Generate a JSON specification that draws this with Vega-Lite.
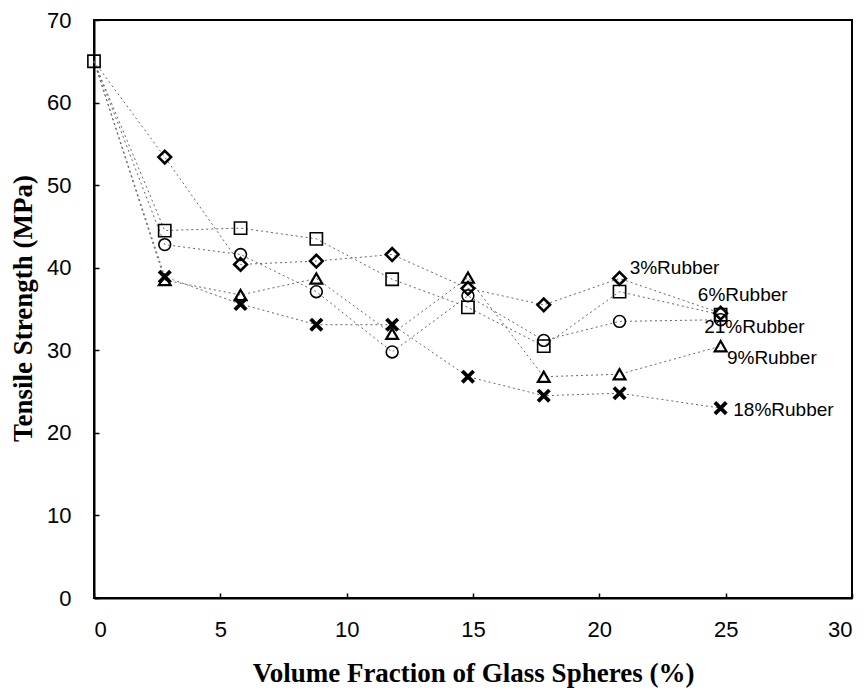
{
  "$schema": "https://vega.github.io/schema/vega-lite/v6.json",
  "width": 758,
  "height": 578,
  "autosize": {"type": "none"},
  "padding": {"left": 94, "top": 20, "right": 14, "bottom": 92},
  "background": "white",
  "config": {
    "view": {"stroke": "black", "strokeWidth": 2},
    "axis": {
      "domainColor": "black",
      "domainWidth": 2,
      "tickColor": "black",
      "tickWidth": 1.5,
      "tickSize": -5,
      "grid": false,
      "labelFont": "Liberation Sans",
      "labelFontSize": 22,
      "labelColor": "black",
      "titleFont": "Liberation Serif",
      "titleFontSize": 27,
      "titleFontWeight": "bold",
      "titleColor": "black"
    }
  },
  "datasets": {
    "pts": [
      {"series": "3%", "x": 0, "y": 65.0},
      {"series": "3%", "x": 2.8, "y": 53.4},
      {"series": "3%", "x": 5.8, "y": 40.4},
      {"series": "3%", "x": 8.8, "y": 40.8},
      {"series": "3%", "x": 11.8, "y": 41.6},
      {"series": "3%", "x": 14.8, "y": 37.5},
      {"series": "3%", "x": 17.8, "y": 35.5},
      {"series": "3%", "x": 20.8, "y": 38.7},
      {"series": "3%", "x": 24.8, "y": 34.5},
      {"series": "6%", "x": 0, "y": 65.0},
      {"series": "6%", "x": 2.8, "y": 44.5},
      {"series": "6%", "x": 5.8, "y": 44.8},
      {"series": "6%", "x": 8.8, "y": 43.5},
      {"series": "6%", "x": 11.8, "y": 38.6},
      {"series": "6%", "x": 14.8, "y": 35.2},
      {"series": "6%", "x": 17.8, "y": 30.5},
      {"series": "6%", "x": 20.8, "y": 37.1},
      {"series": "6%", "x": 24.8, "y": 34.3},
      {"series": "9%", "x": 0, "y": 65.0},
      {"series": "9%", "x": 2.8, "y": 38.5},
      {"series": "9%", "x": 5.8, "y": 36.7},
      {"series": "9%", "x": 8.8, "y": 38.7},
      {"series": "9%", "x": 11.8, "y": 32.0},
      {"series": "9%", "x": 14.8, "y": 38.8},
      {"series": "9%", "x": 17.8, "y": 26.8},
      {"series": "9%", "x": 20.8, "y": 27.1},
      {"series": "9%", "x": 24.8, "y": 30.5},
      {"series": "18%", "x": 0, "y": 65.0},
      {"series": "18%", "x": 2.8, "y": 38.9},
      {"series": "18%", "x": 5.8, "y": 35.6},
      {"series": "18%", "x": 8.8, "y": 33.1},
      {"series": "18%", "x": 11.8, "y": 33.1},
      {"series": "18%", "x": 14.8, "y": 26.8},
      {"series": "18%", "x": 17.8, "y": 24.5},
      {"series": "18%", "x": 20.8, "y": 24.8},
      {"series": "18%", "x": 24.8, "y": 23.0},
      {"series": "21%", "x": 0, "y": 65.0},
      {"series": "21%", "x": 2.8, "y": 42.8},
      {"series": "21%", "x": 5.8, "y": 41.6},
      {"series": "21%", "x": 8.8, "y": 37.1},
      {"series": "21%", "x": 11.8, "y": 29.8},
      {"series": "21%", "x": 14.8, "y": 36.6},
      {"series": "21%", "x": 17.8, "y": 31.2},
      {"series": "21%", "x": 20.8, "y": 33.5},
      {"series": "21%", "x": 24.8, "y": 33.7}
    ],
    "labels": [
      {"x": 21.2, "y": 40.0, "text": "3%Rubber"},
      {"x": 23.9, "y": 36.7, "text": "6%Rubber"},
      {"x": 24.15, "y": 32.8, "text": "21%Rubber"},
      {"x": 25.05, "y": 29.1, "text": "9%Rubber"},
      {"x": 25.3, "y": 22.8, "text": "18%Rubber"}
    ]
  },
  "layer": [
    {
      "data": {"name": "pts"},
      "mark": {"type": "line", "strokeWidth": 1, "color": "#666666", "strokeDash": [2, 3]},
      "encoding": {
        "x": {"field": "x", "type": "quantitative", "scale": {"domain": [0, 30], "nice": false},
              "axis": {"values": [0, 5, 10, 15, 20, 25, 30], "title": "Volume Fraction of Glass Spheres (%)", "labelPadding": 26, "titleBaseline": "alphabetic", "titleY": 83}},
        "y": {"field": "y", "type": "quantitative", "scale": {"domain": [0, 70], "nice": false},
              "axis": {"values": [0, 10, 20, 30, 40, 50, 60, 70], "title": "Tensile Strength (MPa)", "labelPadding": 28, "titleBaseline": "alphabetic", "titleX": -63, "titleY": 288}},
        "detail": {"field": "series"},
        "order": {"field": "x", "type": "quantitative"}
      }
    },
    {
      "data": {"name": "pts"},
      "transform": [{"filter": "datum.x > 0 || datum.series == '6%'"}],
      "mark": {"type": "point", "filled": false, "color": "black", "opacity": 1},
      "encoding": {
        "x": {"field": "x", "type": "quantitative"},
        "y": {"field": "y", "type": "quantitative"},
        "shape": {"field": "series", "type": "nominal", "legend": null,
                  "scale": {"domain": ["3%", "6%", "9%", "18%", "21%"],
                            "range": ["diamond", "square", "triangle-up", "M-1,-1L1,1M1,-1L-1,1", "circle"]}},
        "size": {"field": "series", "type": "nominal", "legend": null,
                 "scale": {"type": "ordinal", "domain": ["3%", "6%", "9%", "18%", "21%"], "range": [160, 150, 140, 130, 140]}},
        "strokeWidth": {"field": "series", "type": "nominal", "legend": null,
                 "scale": {"type": "ordinal", "domain": ["3%", "6%", "9%", "18%", "21%"], "range": [2.6, 1.6, 2.2, 3.8, 1.6]}}
      }
    },
    {
      "data": {"name": "labels"},
      "mark": {"type": "text", "align": "left", "baseline": "middle", "font": "Liberation Sans", "fontSize": 19, "color": "black"},
      "encoding": {
        "x": {"field": "x", "type": "quantitative"},
        "y": {"field": "y", "type": "quantitative"},
        "text": {"field": "text"}
      }
    }
  ]
}
